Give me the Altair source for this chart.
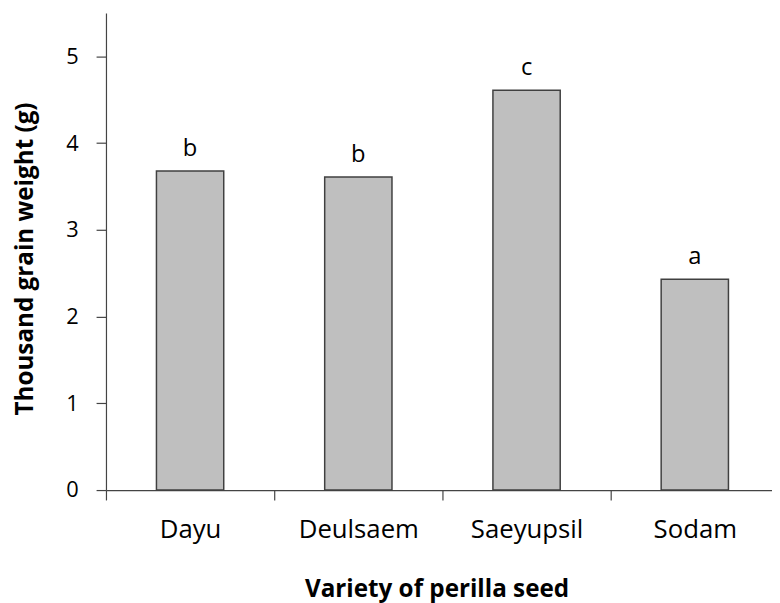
import altair as alt
import pandas as pd

varieties = ["Dayu", "Deulsaem", "Saeyupsil", "Sodam"]
weights = [3.68, 3.61, 4.61, 2.43]
letters = ["b", "b", "c", "a"]

df = pd.DataFrame({"variety": varieties, "weight": weights, "letter": letters})

FONT = "Open Sans"
AX = "#444444"

x = alt.X(
    "variety:N",
    sort=varieties,
    scale=alt.Scale(paddingInner=0, paddingOuter=0),
    axis=alt.Axis(
        title="Variety of perilla seed",
        labelAngle=0,
        labelFont=FONT,
        labelFontSize=26,
        labelColor="black",
        labelBaseline="alphabetic",
        labelPadding=38,
        tickBand="extent",
        tickSize=10,
        tickColor=AX,
        domainColor=AX,
        tickWidth=1.2,
        domainWidth=1.2,
        titleFont=FONT,
        titleFontSize=24.5,
        titleFontWeight="bold",
        titleColor="black",
        titleX=334,
        titleY=108,
        titleBaseline="alphabetic",
        grid=False,
    ),
)

y = alt.Y(
    "weight:Q",
    scale=alt.Scale(domain=[0, 5.5], nice=False),
    axis=alt.Axis(
        title="Thousand grain weight (g)",
        values=[0, 1, 2, 3, 4, 5],
        format="d",
        labelFont=FONT,
        labelFontSize=22,
        labelColor="black",
        labelPadding=18,
        tickSize=10,
        tickColor=AX,
        domainColor=AX,
        tickWidth=1.2,
        domainWidth=1.2,
        titleFont=FONT,
        titleFontSize=24.5,
        titleFontWeight="bold",
        titleColor="black",
        titleX=-81,
        titleY=248,
        titleBaseline="middle",
        grid=False,
    ),
)

bars = alt.Chart(df).mark_bar(
    width={"band": 0.4}, color="#bfbfbf", stroke="#404040", strokeWidth=1.5
).encode(x=x, y=y)

text = alt.Chart(df).mark_text(
    font=FONT, fontSize=24, color="black", baseline="alphabetic", dy=-15
).encode(x=alt.X("variety:N", sort=varieties), y="weight:Q", text="letter:N")

chart = (
    alt.layer(bars, text)
    .properties(
        width=680,
        height=482,
        background="white",
        autosize=alt.AutoSizeParams(type="none"),
        padding={"left": 99, "top": 2, "right": -7, "bottom": 111},
    )
    .configure_view(stroke="transparent", strokeWidth=0)
)

chart.save("out.html", embed_options={"renderer": "svg", "actions": False})
